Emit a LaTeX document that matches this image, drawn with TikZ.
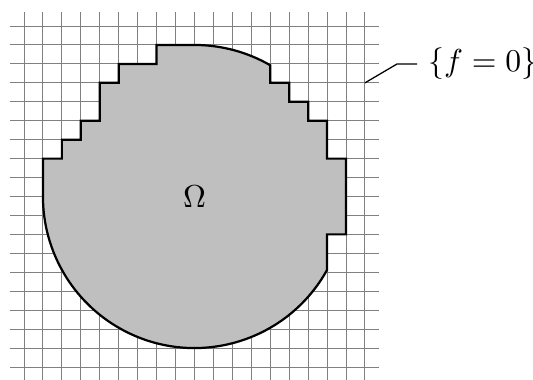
\documentclass[tikz,border=0pt]{standalone}
\begin{document}
\begin{tikzpicture}[x=0.21cm,y=0.21cm,
  gridline/.style={draw=black!50, line width=0.3pt},
  region/.style={fill=lightgray, draw=black, line width=0.7pt, line join=miter},
  leader/.style={draw=black, line width=0.4pt}]
\useasboundingbox (-1.267,-0.64) rectangle (26.87,19.373);
\foreach \i in {0,...,18} {
  \draw[gridline] (\i,-0.75) -- (\i,18.75);
  \draw[gridline] (-0.75,\i) -- (18.75,\i);
}
\draw[region] (1,9) -- (1,11) -- (2,11) -- (2,12) -- (3,12) -- (3,13) -- (4,13) -- (4,15) -- (5,15) -- (5,16) -- (7,16) -- (7,17) -- (9,17)
  arc[start angle=90, end angle=60, radius=8] -- (13,15) -- (14,15) -- (14,14) -- (15,14) -- (15,13) -- (16,13) -- (16,11) -- (17,11) -- (17,7) -- (16,7) -- (16,5.127)
  arc[start angle=-28.955, end angle=-180, radius=8] -- cycle;
\node (omega) at (9,9) {$\Omega$};
\node[anchor=west] (lab) at (20.75,16) {$\{f=0\}$};
\coordinate (tip) at (18,15);
\draw[leader] (tip) -- (19.7,16) -- (lab.west);
\end{tikzpicture}
\end{document}
